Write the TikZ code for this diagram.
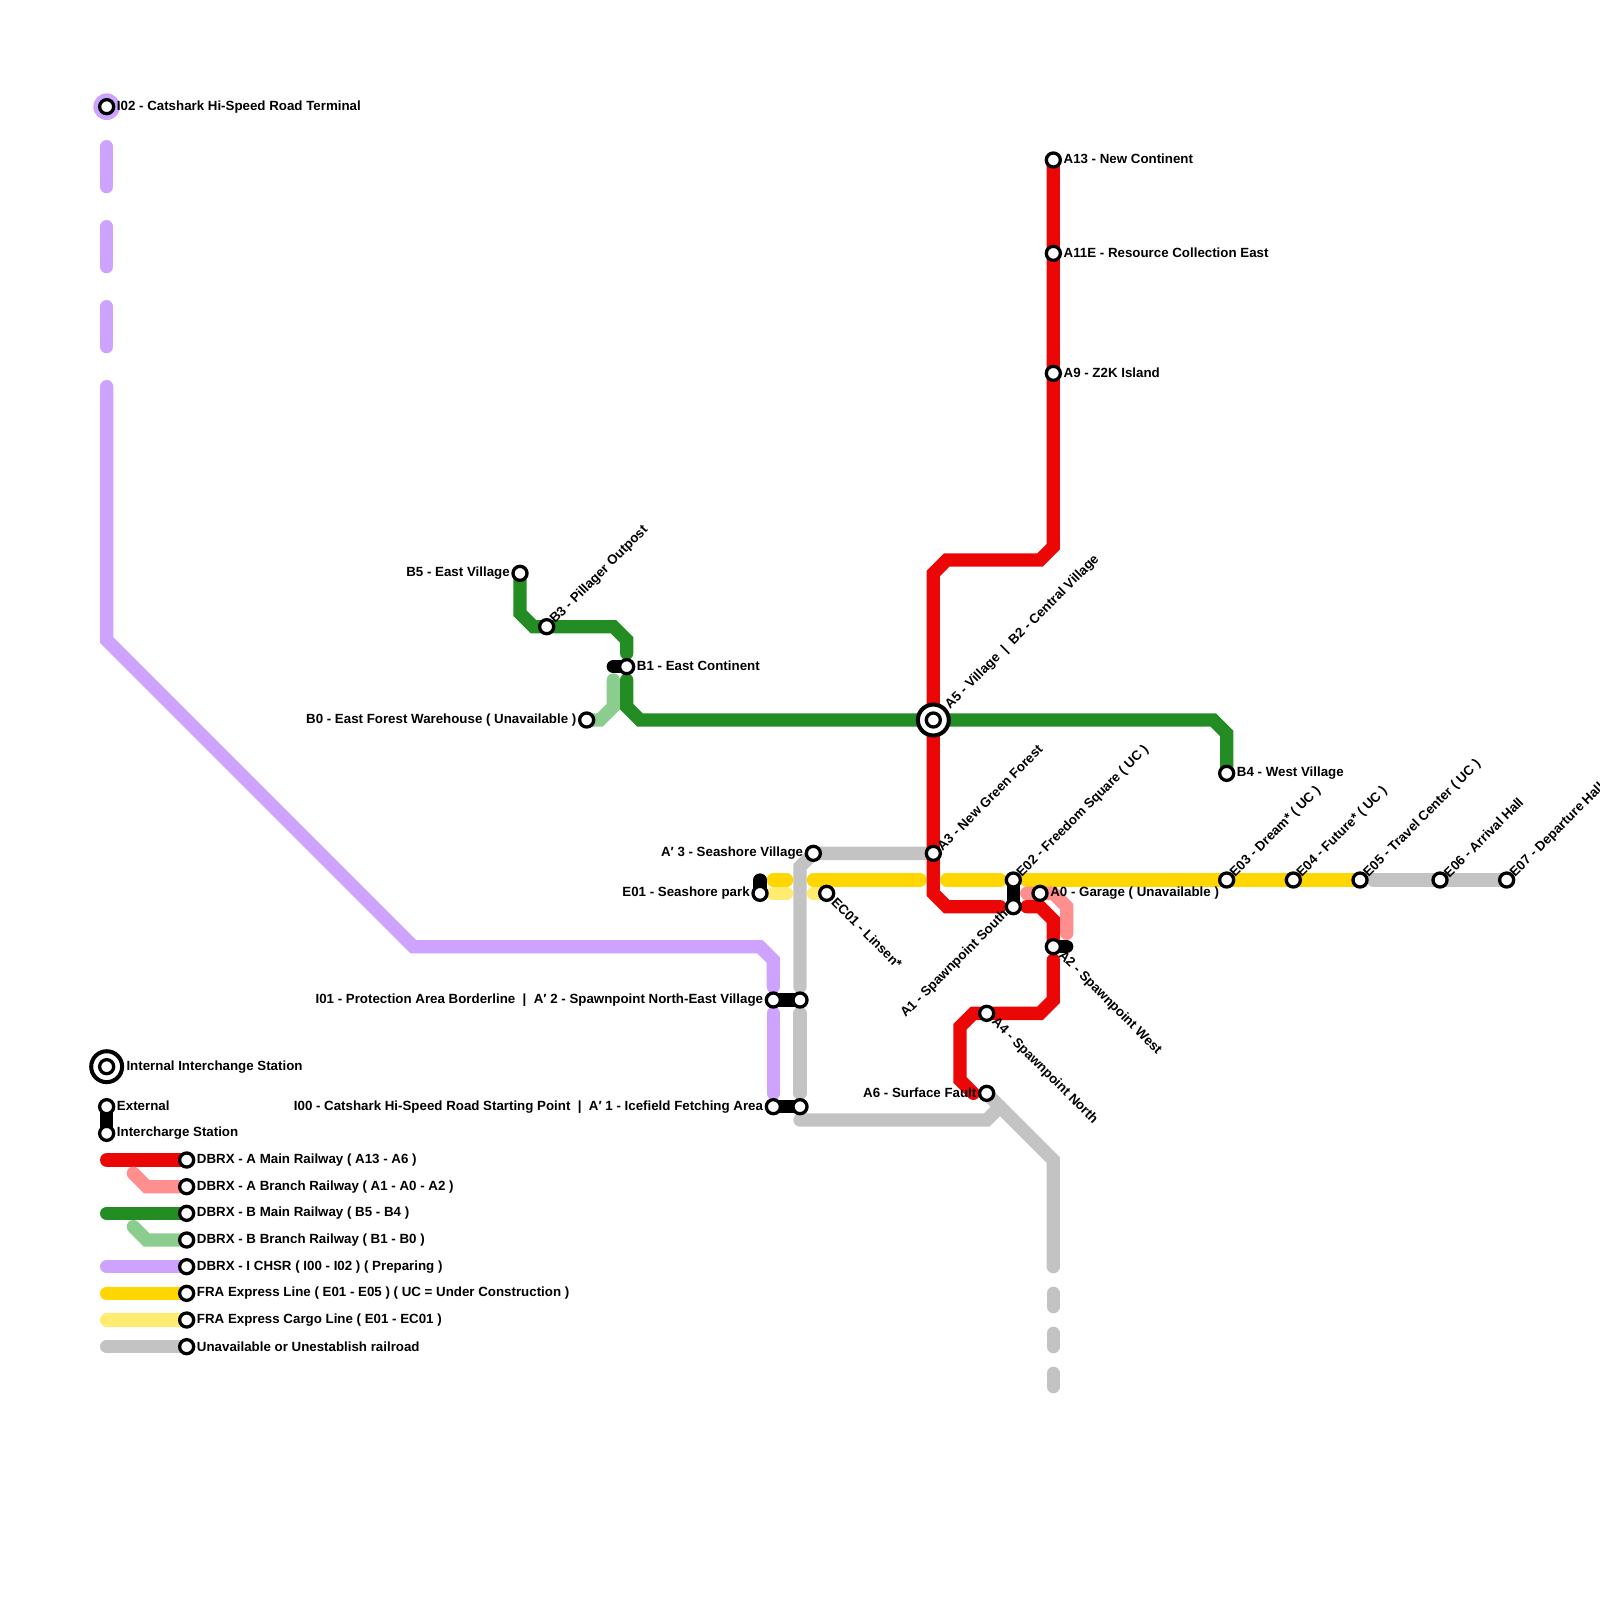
\documentclass[tikz,border=0pt]{standalone}
\usepackage{fontspec}
\setmainfont{Liberation Sans}
\usetikzlibrary{backgrounds}
\definecolor{mainred}{HTML}{EC0707}
\definecolor{branchred}{HTML}{FF8E8E}
\definecolor{maingreen}{HTML}{238C23}
\definecolor{branchgreen}{HTML}{8BCD8E}
\definecolor{chsrpurple}{HTML}{CEA2FF}
\definecolor{fragold}{HTML}{FFD600}
\definecolor{cargogold}{HTML}{FFEC70}
\definecolor{unbuilt}{HTML}{C3C3C3}
\tikzset{
  railway/.style={line width=14.2pt,line cap=round,line join=miter},
  linkbar/.style={railway,black},
  station/.style={circle,draw=black,fill=white,line width=3.5pt,minimum size=15pt,inner sep=0pt},
  hub/.style={circle,draw=black,fill=white,line width=4.3pt,minimum size=33pt,inner sep=0pt},
  txt/.style={font=\fontsize{14.2}{16}\selectfont\bfseries,inner sep=0pt,text=black},
  toright/.style={txt,anchor=west,xshift=10.8pt},
  toleft/.style={txt,anchor=east,xshift=-10.8pt},
  upright/.style={txt,anchor=west,rotate=45,xshift=8.3pt,yshift=-0.7pt},
  downright/.style={txt,anchor=west,rotate=-45,xshift=10.5pt,yshift=0.2pt},
  downleft/.style={txt,anchor=east,rotate=45,xshift=-9.5pt,yshift=1pt},
}
\begin{document}
\begin{tikzpicture}[x=0.5cm,y=-0.5cm]
  \useasboundingbox (0,0) rectangle (120,120);
  % A line
  \node[station] (a13) at (79,12) {};
  \node[station] (a11e) at (79,19) {};
  \node[station] (a9) at (79,28) {};
  \node[hub] (a5ring) at (70,54) {};
  \node[station] (a5) at (70,54) {};
  \node[station] (a3) at (70,64) {};
  \node[station] (a1) at (76,68) {};
  \node[station] (a0) at (78,67) {};
  \node[station] (a2) at (79,71) {};
  \node[station] (a4) at (74,76) {};
  \node[station] (a6) at (74,82) {};
  % B line
  \node[station] (b5) at (39,43) {};
  \node[station] (b3) at (41,47) {};
  \node[station] (b1) at (47,50) {};
  \node[station] (b0) at (44,54) {};
  \node[station] (b4) at (92,58) {};
  % I line
  \node[station] (i02) at (8,8) {};
  \node[station] (i01) at (58,75) {};
  \node[station] (i00) at (58,83) {};
  % E line
  \node[station] (e01) at (57,67) {};
  \node[station] (ec01) at (62,67) {};
  \node[station] (e02) at (76,66) {};
  \node[station] (e03) at (92,66) {};
  \node[station] (e04) at (97,66) {};
  \node[station] (e05) at (102,66) {};
  \node[station] (e06) at (108,66) {};
  \node[station] (e07) at (113,66) {};
  % A' stops
  \node[station] (ap3) at (61,64) {};
  \node[station] (ap2) at (60,75) {};
  \node[station] (ap1) at (60,83) {};
  % legend marks
  \node[hub] (keyring) at (8,80) {};
  \node[station] (keyhub) at (8,80) {};
  \node[station] (keyext) at (8,83) {};
  \node[station] (keyint) at (8,85) {};
  \foreach \y/\t in {87/DBRX - A Main Railway ( A13 - A6 ),
                     89/DBRX - A Branch Railway ( A1 - A0 - A2 ),
                     91/DBRX - B Main Railway ( B5 - B4 ),
                     93/DBRX - B Branch Railway ( B1 - B0 ),
                     95/DBRX - I CHSR ( I00 - I02 ) ( Preparing ),
                     97/FRA Express Line ( E01 - E05 ) ( UC = Under Construction ),
                     99/FRA Express Cargo Line ( E01 - EC01 ),
                     101/Unavailable or Unestablish railroad} {
    \node[station] (key\y) at (14,\y) {};
    \node[toright] (keytxt\y) at (key\y) {\t};
  }
  % labels
  \node[toright,yshift=1pt] (a13txt) at (a13) {A13 - New Continent};
  \node[toright,yshift=1pt] (a11etxt) at (a11e) {A11E - Resource Collection East};
  \node[toright,yshift=1pt] (a9txt) at (a9) {A9 - Z2K Island};
  \node[toright] (a0txt) at (a0) {A0 - Garage ( Unavailable )};
  \node[toright,yshift=1pt] (b1txt) at (b1) {B1 - East Continent};
  \node[toright] (b4txt) at (b4) {B4 - West Village};
  \node[toright] (i02txt) at (i02) {I02 - Catshark Hi-Speed Road Terminal};
  \node[toleft] (b5txt) at (b5) {B5 - East Village};
  \node[toleft] (b0txt) at (b0) {B0 - East Forest Warehouse ( Unavailable )};
  \node[toleft] (ap3txt) at (ap3) {A′ 3 - Seashore Village};
  \node[toleft] (e01txt) at (e01) {E01 - Seashore park};
  \node[toleft] (i01txt) at (i01) {I01 - Protection Area Borderline\ \ |\ \ A′ 2 - Spawnpoint North-East Village};
  \node[toleft] (i00txt) at (i00) {I00 - Catshark Hi-Speed Road Starting Point\ \ |\ \ A′ 1 - Icefield Fetching Area};
  \node[toleft,yshift=1pt] (a6txt) at (a6) {A6 - Surface Fault};
  \node[upright] (b3txt) at (b3) {B3 - Pillager Outpost};
  \node[upright,xshift=12.4pt,yshift=-0.3pt] (a5txt) at (a5) {A5 - Village\ \ |\ \ B2 - Central Village};
  \node[upright] (a3txt) at (a3) {A3 - New Green Forest};
  \node[upright] (e02txt) at (e02) {E02 - Freedom Square ( UC )};
  \node[upright] (e03txt) at (e03) {E03 - Dream* ( UC )};
  \node[upright] (e04txt) at (e04) {E04 - Future* ( UC )};
  \node[upright] (e05txt) at (e05) {E05 - Travel Center ( UC )};
  \node[upright] (e06txt) at (e06) {E06 - Arrival Hall};
  \node[upright] (e07txt) at (e07) {E07 - Departure Hall};
  \node[downright] (ec01txt) at (ec01) {EC01 - Linsen*};
  \node[downright] (a2txt) at (a2) {A2 - Spawnpoint West};
  \node[downright] (a4txt) at (a4) {A4 - Spawnpoint North};
  \node[downleft] (a1txt) at (a1) {A1 - Spawnpoint South};
  \node[txt,anchor=west,xshift=21pt] (keyhubtxt) at (keyhub) {Internal Interchange Station};
  \node[toright,yshift=1.5pt] (keyexttxt) at (keyext) {External};
  \node[toright] (keyinttxt) at (keyint) {Intercharge Station};

  \begin{scope}[on background layer]
    % unavailable parts
    \draw[railway,unbuilt] (a3.center) -- (ap3.center) -- (60,65) -- (60,74);
    \draw[railway,unbuilt] (60,76) -- (60,82);
    \draw[railway,unbuilt] (60,84) -- (74,84) -- (75,83);
    \draw[railway,unbuilt] (a6.center) -- (79,87) -- (79,95);
    \foreach \y in {97,100,103} {
      \draw[railway,unbuilt] (79,\y) -- (79,{\y+1});
    }
    \draw[railway,unbuilt] (103,66) -- (e07.center);
    % purple one
    \fill[chsrpurple] (i02) circle (1);
    \foreach \y in {11,17,23} {
      \draw[railway,chsrpurple] (8,\y) -- (8,{\y+3});
    }
    \draw[railway,chsrpurple] (8,29) -- (8,48) -- (31,71) -- (57,71) -- (58,72) -- (58,74);
    \draw[railway,chsrpurple] (58,76) -- (58,82);
    % yellow ones
    \draw[railway,fragold] (58,66) -- (59,66);
    \draw[railway,fragold] (61,66) -- (69,66);
    \draw[railway,fragold] (71,66) -- (75,66);
    \draw[railway,fragold] (77,66) -- (e05.center);
    \draw[railway,cargogold] (58,67) -- (59,67);
    \draw[railway,cargogold] (61,67) -- (ec01.center);
    % green ones
    \draw[railway,branchgreen] (b0.center) -- (45,54) -- (46,53) -- (46,51);
    \draw[railway,maingreen] (b5.center) -- (39,46) -- (40,47) -- (46,47) -- (47,48) -- (47,49);
    \draw[railway,maingreen] (47,51) -- (47,53) -- (48,54) -- (91,54) -- (92,55) -- (b4.center);
    % red ones
    \draw[railway,branchred] (77,67) -- (79,67) -- (80,68) -- (80,70);
    \draw[railway,mainred] (a13.center) -- (79,41) -- (78,42) -- (71,42) -- (70,43) -- (70,67) -- (71,68) -- (75,68);
    \draw[railway,mainred] (77,68) -- (78,68) -- (79,69) -- (a2.center);
    \draw[railway,mainred] (79,72) -- (79,75) -- (78,76) -- (73,76) -- (72,77) -- (72,81) -- (73,82);
    % transfer bars
    \draw[linkbar] (b1.center) -- (46,50);
    \draw[linkbar] (e01.center) -- (57,66);
    \draw[linkbar] (i01.center) -- (ap2.center);
    \draw[linkbar] (i00.center) -- (ap1.center);
    \draw[linkbar] (e02.center) -- (a1.center);
    \draw[linkbar] (a2.center) -- (80,71);
    % legend
    \draw[linkbar] (keyext.center) -- (keyint.center);
    \foreach \y/\c in {87/mainred,91/maingreen,95/chsrpurple,97/fragold,99/cargogold,101/unbuilt} {
      \draw[railway,\c] (8,\y) -- (key\y.center);
    }
    \draw[railway,branchred] (10,88) -- (11,89) -- (key89.center);
    \draw[railway,branchgreen] (10,92) -- (11,93) -- (key93.center);
  \end{scope}
\end{tikzpicture}
\end{document}
